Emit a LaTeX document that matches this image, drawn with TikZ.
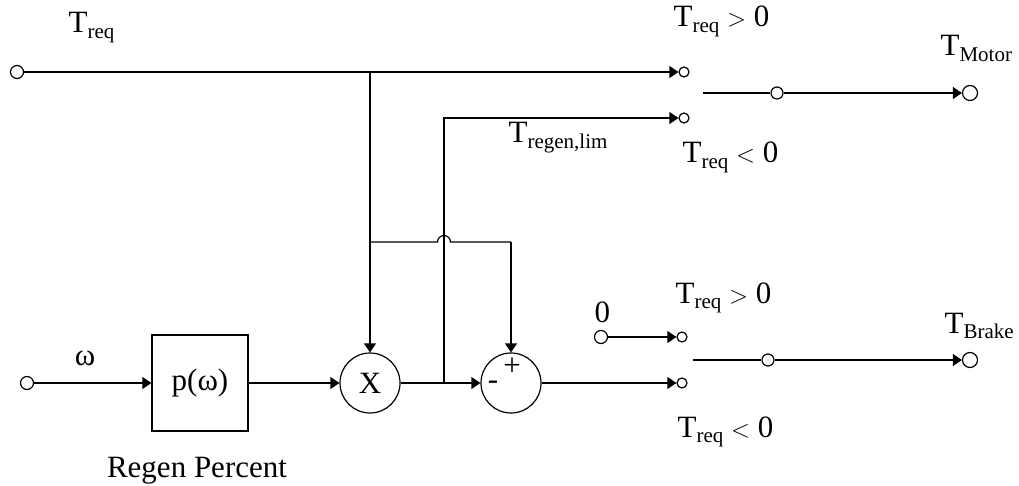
\documentclass[tikz,border=0pt]{standalone}
\usepackage{fontspec}
\setmainfont{Liberation Serif}
\usetikzlibrary{arrows.meta}
\tikzset{sig/.style={-{Triangle[length=9pt,width=12pt]}},
  port/.style={draw,circle,fill=white,inner sep=0pt,minimum size=13pt},
  tap/.style={draw,circle,fill=white,inner sep=0pt,minimum size=10pt},
  opcirc/.style={draw,circle,inner sep=0pt,minimum size=60pt},
  lbl/.style={anchor=base west,inner sep=0pt}}
\newcommand{\Tsub}[1]{T\raisebox{-0.17em}{\fontsize{21}{24}\selectfont #1}}

\begin{document}
\begin{tikzpicture}[x=1pt,y=-1pt,line width=1.2pt,
  font=\fontsize{31}{36}\selectfont]
  \useasboundingbox (0,0) rectangle (1019,486);
  % inputs
  \node[port] (treqin) at (17,72) {};
  \node[port] (win) at (27,383) {};
  \node[port] (zeroin) at (601,337) {};
  % blocks
  \node[draw,minimum size=96pt,inner sep=0pt] (pbox) at (200,383) {p(ω)};
  \node[opcirc] (mult) at (370,383) {X};
  \node[opcirc] (summ) at (511,383) {};
  \node (plus) at (512,367) {+};
  \node (minus) at (493,385) {-};
  % switch contacts
  \node[tap] (sw1a) at (684,72) {};
  \node[tap] (sw1b) at (684,118) {};
  \node[tap] (sw2a) at (682,337) {};
  \node[tap] (sw2b) at (682,383) {};
  \node[tap,minimum size=12pt] (mot1) at (777,93) {};
  \node[tap,minimum size=12pt] (brk1) at (768,360) {};
  \node[port,minimum size=15pt] (motout) at (970,93) {};
  \node[port,minimum size=15pt] (brkout) at (970,360) {};
  \coordinate (m0) at (703,93);
  \coordinate (b0) at (693,360);
  \coordinate (jtop) at (370,72);
  \coordinate (jmid) at (370,242);
  \coordinate (jcor) at (511,242);
  \coordinate (jsum) at (444,383);
  \coordinate (jreg) at (444,118);

  % wiring
  \draw[sig] (treqin) -- (sw1a);
  \draw[sig] (jtop) -- (mult);
  \draw (jmid) -- (437.5,242) arc(180:360:6.5) -- (jcor);
  \draw[sig] (jcor) -- (summ);
  \draw[sig] (win) -- (pbox);
  \draw[sig] (pbox) -- (mult);
  \draw[sig] (mult) -- (summ);
  \draw[sig] (jsum) -- (jreg) -- (sw1b);
  \draw[sig] (summ) -- (sw2b);
  \draw[sig] (zeroin) -- (sw2a);
  \draw (m0) -- (mot1);
  \draw[sig] (mot1) -- (motout);
  \draw (b0) -- (brk1);
  \draw[sig] (brk1) -- (brkout);

  % labels
  \node[lbl] (ltreq) at (68,33) {\Tsub{req}};
  \node[lbl] (lpos1) at (673,27) {\Tsub{req} $>$ 0};
  \node[lbl] (lneg1) at (682,163) {\Tsub{req} $<$ 0};
  \node[lbl] (lmot) at (940,56) {\Tsub{Motor}};
  \node[lbl] (lreg) at (508,143) {\Tsub{regen,lim}};
  \node[lbl] (lzero) at (594,322) {0};
  \node[lbl] (lpos2) at (675,303) {\Tsub{req} $>$ 0};
  \node[lbl] (lneg2) at (677,437) {\Tsub{req} $<$ 0};
  \node[lbl] (lbrk) at (944,333) {\Tsub{Brake}};
  \node[anchor=base] (lw) at (85,365) {ω};
  \node[anchor=base] (lpct) at (197,477) {Regen Percent};
\end{tikzpicture}
\end{document}
